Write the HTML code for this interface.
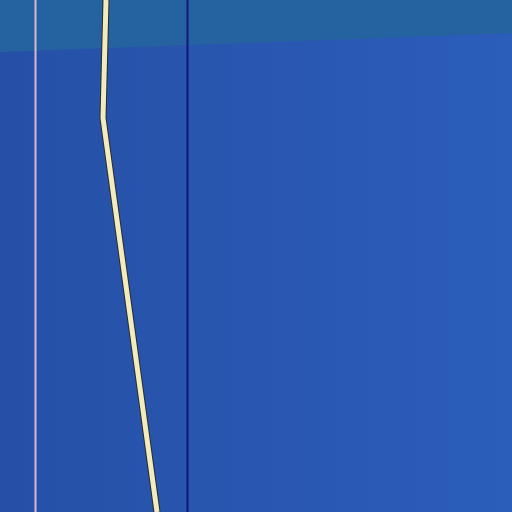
<!DOCTYPE html>
<html><head><meta charset="utf-8"><style>
html,body{margin:0;padding:0;width:512px;height:512px;overflow:hidden;background:#2853aa}
svg{display:block}
</style></head><body>
<svg id="chart" width="512" height="512" viewBox="0 0 512 512" xmlns="http://www.w3.org/2000/svg">
<defs>
<linearGradient id="bg" x1="0" y1="0" x2="1" y2="0">
<stop offset="0" stop-color="#2650a6"/><stop offset="1" stop-color="#2b5dbb"/>
</linearGradient>
</defs>
<rect x="0" y="0" width="512" height="512" fill="url(#bg)"/>
<polygon points="0,0 512,0 512,33 0,52" fill="#2563a0"/>
<line x1="35.5" y1="0" x2="35.5" y2="512" stroke="#d8b8d8" stroke-width="2"/>
<line x1="187.5" y1="0" x2="187.5" y2="512" stroke="#14147a" stroke-width="2"/>
<g id="series"></g>
</svg>
<script>
const xValues = [1.06, 1.03, 1.57];
const yValues = [0, 1.18, 5.12];
function sx(v){ return v * 100; }
function sy(v){ return v * 100; }
const g = document.getElementById('series');
const pts = xValues.map((x,i)=>sx(x)+','+sy(yValues[i])).join(' ');
const ns = 'http://www.w3.org/2000/svg';
const outline = document.createElementNS(ns,'polyline');


outline.setAttribute('points', pts);
outline.setAttribute('fill','none');
outline.setAttribute('stroke','#2a2a30');
outline.setAttribute('stroke-width','7');
g.appendChild(outline);
const line = document.createElementNS(ns,'polyline');


line.setAttribute('points', pts);
line.setAttribute('fill','none');
line.setAttribute('stroke','#f2ecbc');
line.setAttribute('stroke-width','5');
g.appendChild(line);
</script>
</body></html>
